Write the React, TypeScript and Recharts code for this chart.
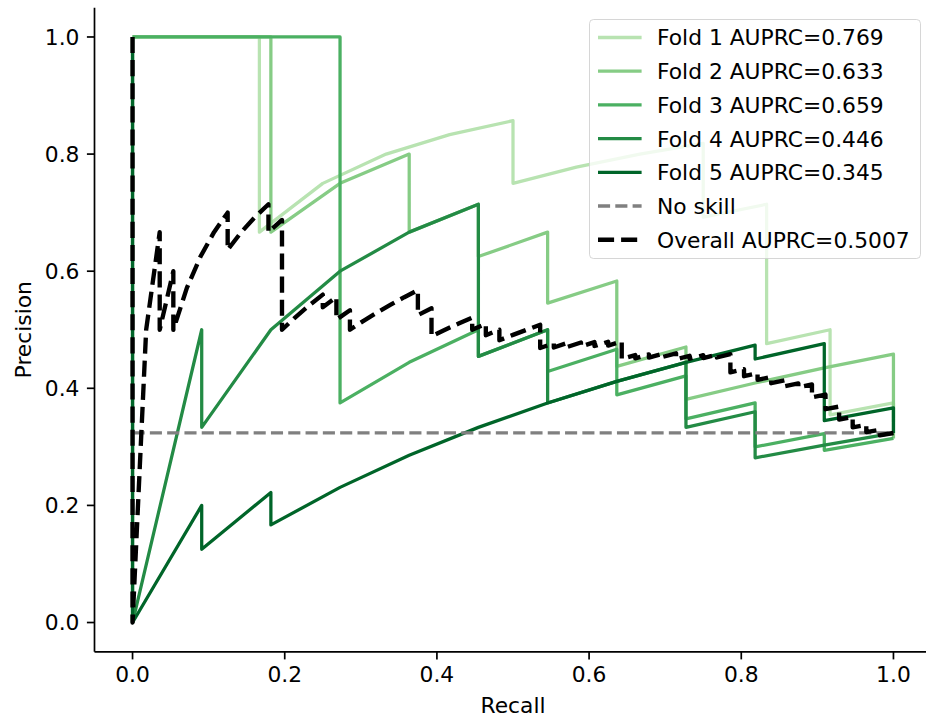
import React from 'react';
import { LineChart, Line, XAxis, YAxis, Legend } from 'recharts';

const FONT = '"DejaVu Sans", "Liberation Sans", sans-serif';
const FS = 21.8;

const xTicks = [0, 0.2, 0.4, 0.6, 0.8, 1.0];
const yTicks = [0, 0.2, 0.4, 0.6, 0.8, 1.0];

const fold1Recall = [0, 0.0833, 0.1667, 0.1667, 0.25, 0.3333, 0.4167, 0.5, 0.5, 0.5833, 0.6667, 0.75, 0.75, 0.8333, 0.8333, 0.9167, 0.9167, 1.0, 1.0];
const fold1Precision = [1, 1, 1, 0.6667, 0.75, 0.8, 0.8333, 0.8571, 0.75, 0.7778, 0.8, 0.8182, 0.6923, 0.7143, 0.4762, 0.5, 0.3548, 0.375, 0.3429];

const fold2Recall = [0, 0.0909, 0.1818, 0.1818, 0.2727, 0.3636, 0.3636, 0.4545, 0.4545, 0.5455, 0.5455, 0.6364, 0.6364, 0.7273, 0.7273, 0.8182, 0.9091, 1.0, 1.0];
const fold2Precision = [1, 1, 1, 0.6667, 0.75, 0.8, 0.6667, 0.7143, 0.625, 0.6667, 0.5455, 0.5833, 0.4375, 0.4706, 0.381, 0.4091, 0.4348, 0.4583, 0.3143];

const fold3Recall = [0, 0.0909, 0.1818, 0.2727, 0.2727, 0.3636, 0.4545, 0.4545, 0.5455, 0.5455, 0.6364, 0.6364, 0.7273, 0.7273, 0.8182, 0.8182, 0.9091, 0.9091, 1.0];
const fold3Precision = [1, 1, 1, 1, 0.375, 0.4444, 0.5, 0.4545, 0.5, 0.4286, 0.4667, 0.3889, 0.4211, 0.3478, 0.375, 0.3, 0.3226, 0.2941, 0.3143];

const fold4Recall = [0, 0, 0.0909, 0.0909, 0.1818, 0.2727, 0.3636, 0.4545, 0.4545, 0.5455, 0.5455, 0.6364, 0.7273, 0.7273, 0.8182, 0.8182, 0.9091, 1.0];
const fold4Precision = [1, 0, 0.5, 0.3333, 0.5, 0.6, 0.6667, 0.7143, 0.4545, 0.5, 0.375, 0.4118, 0.4444, 0.3333, 0.36, 0.2813, 0.303, 0.3235];

const fold5Recall = [0, 0, 0.0909, 0.0909, 0.1818, 0.1818, 0.2727, 0.3636, 0.4545, 0.5455, 0.6364, 0.7273, 0.8182, 0.8182, 0.9091, 0.9091, 1.0, 1.0];
const fold5Precision = [1, 0, 0.2, 0.125, 0.2222, 0.1667, 0.2308, 0.2857, 0.3333, 0.375, 0.4118, 0.4444, 0.4737, 0.45, 0.4762, 0.3448, 0.3667, 0.3235];

const noSkillRecall = [0, 1];
const noSkillPrecision = [0.3237, 0.3237];

const overallRecall = [
  0, 0, 0.0179, 0.0357, 0.0357, 0.0536, 0.0536, 0.0714, 0.0893, 0.1071,
  0.125, 0.125, 0.1429, 0.1607, 0.1786, 0.1786, 0.1964, 0.1964, 0.2143, 0.2321,
  0.25, 0.25, 0.2679, 0.2679, 0.2857, 0.2857, 0.3036, 0.3214, 0.3393, 0.3571,
  0.375, 0.375, 0.3929, 0.3929, 0.4107, 0.4286, 0.4464, 0.4464, 0.4643, 0.4643,
  0.4821, 0.4821, 0.5, 0.5179, 0.5357, 0.5357, 0.5536, 0.5536, 0.5714, 0.5714,
  0.5893, 0.5893, 0.6071, 0.6071, 0.625, 0.625, 0.6429, 0.6429, 0.6607, 0.6607,
  0.6786, 0.6786, 0.6964, 0.6964, 0.7143, 0.7143, 0.7321, 0.7321, 0.75, 0.75,
  0.7679, 0.7679, 0.7857, 0.7857, 0.8036, 0.8036, 0.8214, 0.8214, 0.8393, 0.8393,
  0.8571, 0.8571, 0.875, 0.875, 0.8929, 0.8929, 0.9107, 0.9107, 0.9286, 0.9286,
  0.9464, 0.9464, 0.9643, 0.9643, 0.9821, 0.9821, 1.0,
];
const overallPrecision = [
  1, 0, 0.5, 0.6667, 0.5, 0.6, 0.5, 0.5714, 0.625, 0.6667,
  0.7, 0.6364, 0.6667, 0.6923, 0.7143, 0.6667, 0.6875, 0.5, 0.5217, 0.5417,
  0.56, 0.5385, 0.5556, 0.5172, 0.5333, 0.5, 0.5152, 0.5294, 0.5429, 0.5556,
  0.5676, 0.525, 0.5366, 0.4889, 0.5, 0.5106, 0.5208, 0.5, 0.5098, 0.4906,
  0.5, 0.4821, 0.4912, 0.5, 0.5085, 0.4688, 0.4769, 0.4697, 0.4776, 0.4706,
  0.4783, 0.4714, 0.4789, 0.4722, 0.4795, 0.473, 0.48, 0.45, 0.4568, 0.4512,
  0.4578, 0.4524, 0.4588, 0.4535, 0.4598, 0.4494, 0.4556, 0.4505, 0.4565, 0.4516,
  0.4574, 0.4526, 0.4583, 0.4272, 0.4327, 0.4206, 0.4259, 0.4144, 0.4196, 0.4087,
  0.4138, 0.4034, 0.4083, 0.4016, 0.4065, 0.3846, 0.3893, 0.3643, 0.3688, 0.3467,
  0.351, 0.3333, 0.3375, 0.3253, 0.3293, 0.3198, 0.3237,
];

const seriesNames = [
  'Fold 1 AUPRC=0.769',
  'Fold 2 AUPRC=0.633',
  'Fold 3 AUPRC=0.659',
  'Fold 4 AUPRC=0.446',
  'Fold 5 AUPRC=0.345',
  'No skill',
  'Overall AUPRC=0.5007',
];

const toPoints = (recall: number[], precision: number[]) =>
  recall.map((r, i) => ({ r, p: precision[i] }));

const LW = 3.27;

const series = [
  { name: seriesNames[0], data: toPoints(fold1Recall, fold1Precision), color: '#b8e3b1', width: LW, dash: undefined as string | undefined },
  { name: seriesNames[1], data: toPoints(fold2Recall, fold2Precision), color: '#86cc85', width: LW, dash: undefined },
  { name: seriesNames[2], data: toPoints(fold3Recall, fold3Precision), color: '#4bb062', width: LW, dash: undefined },
  { name: seriesNames[3], data: toPoints(fold4Recall, fold4Precision), color: '#238b45', width: LW, dash: undefined },
  { name: seriesNames[4], data: toPoints(fold5Recall, fold5Precision), color: '#006529', width: LW, dash: undefined },
  { name: seriesNames[5], data: toPoints(noSkillRecall, noSkillPrecision), color: '#808080', width: LW, dash: '12.1 5.2' },
  { name: seriesNames[6], data: toPoints(overallRecall, overallPrecision), color: '#000000', width: 4.36, dash: '16.1 7' },
];

const renderLegend = () => (
  <svg width={333} height={242} style={{ display: 'block', overflow: 'visible' }}>
    <rect x={0.5} y={0.5} width={331} height={239} rx={4} ry={4} fill="#ffffff" fillOpacity={0.8} stroke="#cccccc" strokeOpacity={0.8} strokeWidth={1} />
    {series.map((s, i) => {
      const cy = 18.5 + i * 33.7;
      return (
        <g key={s.name}>
          <line x1={9} x2={52.6} y1={cy} y2={cy} stroke={s.color} strokeWidth={s.width} strokeDasharray={s.dash} />
          <text x={68} y={cy + 7.95} fontFamily={FONT} fontSize={FS} fill="#000">{s.name}</text>
        </g>
      );
    })}
  </svg>
);

const renderXLabel = (props: any) => {
  const vb = props.viewBox || { x: 94.5, y: 651.8, width: 837, height: 67.2 };
  return (
    <text x={vb.x + vb.width / 2} y={vb.y + 61.5} textAnchor="middle" fontFamily={FONT} fontSize={FS} fill="#000">Recall</text>
  );
};

const renderYLabel = (props: any) => {
  const vb = props.viewBox || { x: 0, y: 7.7, width: 94.5, height: 644.1 };
  const cx = 31;
  const cy = vb.y + vb.height / 2;
  return (
    <text x={cx} y={cy} transform={`rotate(-90, ${cx}, ${cy})`} textAnchor="middle" fontFamily={FONT} fontSize={FS} fill="#000">Precision</text>
  );
};

const fmt = (v: number) => v.toFixed(1);

export default function App() {
  const tickStyle = { fontFamily: FONT, fontSize: FS, fill: '#000' };
  const axisLine = { stroke: '#000', strokeWidth: 1.7 };
  return (
    <div style={{ position: 'absolute', left: 0, top: 0, width: 926, height: 719, overflow: 'hidden', background: '#fff' }}>
      <LineChart width={940} height={719} margin={{ top: 7.7, right: 8.5, bottom: 0, left: 0 }}>
        <XAxis
          dataKey="r"
          type="number"
          domain={[-0.05, 1.05]}
          allowDataOverflow
          ticks={xTicks}
          interval={0}
          tickFormatter={fmt}
          height={67.2}
          tickSize={7.6}
          tickMargin={7.4}
          tick={tickStyle}
          axisLine={axisLine}
          tickLine={axisLine}
          label={{ value: 'Recall', content: renderXLabel }}
        />
        <XAxis
          xAxisId="top"
          orientation="top"
          dataKey="r"
          type="number"
          domain={[-0.05, 1.05]}
          allowDataOverflow
          height={0}
          tick={false}
          tickLine={false}
          axisLine={axisLine}
        />
        <YAxis
          type="number"
          domain={[-0.05, 1.05]}
          allowDataOverflow
          ticks={yTicks}
          interval={0}
          tickFormatter={fmt}
          width={94.5}
          tickSize={7.6}
          tickMargin={7.4}
          tick={tickStyle}
          axisLine={axisLine}
          tickLine={axisLine}
          label={{ value: 'Precision', content: renderYLabel }}
        />
        <Legend
          content={renderLegend}
          layout="vertical"
          align="center"
          verticalAlign="middle"
          wrapperStyle={{ left: 589, top: 18.6, width: 333, height: 242 }}
        />
        {series.map((s) => (
          <Line
            key={s.name}
            name={s.name}
            data={s.data}
            dataKey="p"
            type="linear"
            stroke={s.color}
            strokeWidth={s.width}
            strokeDasharray={s.dash}
            strokeLinejoin="round"
            dot={false}
            activeDot={false}
            isAnimationActive={false}
          />
        ))}
      </LineChart>
    </div>
  );
}
